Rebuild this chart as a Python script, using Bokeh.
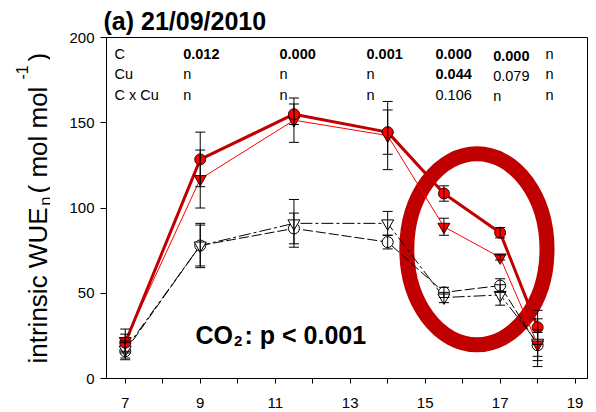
import math
from bokeh.plotting import figure
from bokeh.layouts import row
from bokeh.models import Range1d, Label, Whisker, ColumnDataSource, FixedTicker, TeeHead
from bokeh.embed import file_html
from bokeh.resources import INLINE

# ---------------- data ----------------
days = [7, 9, 11.5, 14, 15.5, 17, 18]

# elevated CO2, control (red circles, thick line)
ec_ctrl = [21, 128.5, 155, 144.5, 108.5, 85.5, 30]
ec_ctrl_se = [5, 16, 6, 13, 4.5, 3, 10]
# elevated CO2, Cu (red triangles, thin line)
ec_cu = [22, 117, 151.5, 142.5, 89, 71, 20]
ec_cu_se = [7, 17, 13, 20, 5, 1.5, 7]
# ambient CO2, control (open circles)
ac_ctrl = [16, 78, 88, 80, 50.5, 54.5, 19.5]
ac_ctrl_se = [5, 13, 9, 4, 3, 4, 9]
# ambient CO2, Cu (open triangles)
ac_cu = [17, 78, 91, 91, 47.5, 49, 21]
ac_cu_se = [5, 12, 14, 7, 3, 6, 14]

x_ticks = list(range(7, 20))
x_tick_labels = {t: (str(t) if t % 2 == 1 else "") for t in x_ticks}
y_ticks = [0, 50, 100, 150, 200]

table_rows = ["C", "Cu", "C x Cu"]
table_vals = [
    ["0.012", "0.000", "0.001", "0.000", "0.000", "n"],
    ["n", "n", "n", "0.044", "0.079", "n"],
    ["n", "n", "n", "0.106", "n", "n"],
]
table_bold = [
    [True, True, True, True, True, False],
    [False, False, False, True, False, False],
    [False, False, False, False, False, False],
]

title_text = "(a) 21/09/2010"
ylabel_main = "intrinsic WUE"
ylabel_sub = "\u03b7"
ylabel_unit = "( mol mol"
ylabel_sup = "-1"
ylabel_close = ")"
stat_main = "CO"
stat_sub = "2"
stat_rest = ": p < 0.001"

# highlight ellipse (data units)
hl_day, hl_val, hl_w, hl_h = 16.38, 75.8, 3.74, 112.0

# ---------------- layout ----------------
W, H = 596, 412
LW = 50                      # width of the strip holding the rotated y label
L, R, T, B = 106, 9, 37, 34  # frame borders measured on the full canvas
xr = (6.5, 19.33)
yr = (0, 200)
FONT = "Liberation Sans"

p = figure(width=W - LW, height=H, x_range=Range1d(*xr), y_range=Range1d(*yr),
           output_backend="svg", toolbar_location=None,
           min_border_left=L - LW, min_border_right=R, min_border_top=T, min_border_bottom=B)
p.grid.visible = False
p.outline_line_color = "black"
p.outline_line_width = 1
p.background_fill_color = "white"
p.border_fill_color = "white"

fw = W - L - R
fh = H - T - B


def X(px):
    return xr[0] + (px - L) * (xr[1] - xr[0]) / fw


def Y(py):
    return yr[0] + (H - B - py) * (yr[1] - yr[0]) / fh


# title
p.title.text = title_text
p.title.align = "left"
p.title.offset = -3
p.title.standoff = 5
p.title.text_font = FONT
p.title.text_font_size = "25px"
p.title.text_font_style = "bold"
p.title.text_color = "black"

# axes
xa = p.xaxis[0]
xa.ticker = FixedTicker(ticks=x_ticks)
xa.major_label_overrides = x_tick_labels
xa.minor_tick_line_color = None
xa.major_tick_out = 5
xa.major_tick_in = 0
xa.major_label_standoff = 14
ya = p.yaxis[0]
ya.ticker = FixedTicker(ticks=y_ticks)
ya.minor_tick_line_color = None
ya.major_tick_out = 6
ya.major_tick_in = 0
ya.major_label_standoff = 6
for ax in (xa, ya):
    ax.axis_line_color = "black"
    ax.major_tick_line_color = "black"
    ax.major_label_text_font = FONT
    ax.major_label_text_font_size = "15px"
    ax.major_label_text_color = "black"

# highlight ellipse
p.ellipse(x=[hl_day], y=[hl_val], width=hl_w, height=hl_h, fill_color=None,
          line_color="#C00000", line_width=15)

# lines
p.line(days, ac_ctrl, line_color="black", line_width=1, line_dash="10 3")
p.line(days, ac_cu, line_color="black", line_width=1, line_dash="12 3 3 3")
p.line(days, ec_cu, line_color="#FF0000", line_width=1)
p.line(days, ec_ctrl, line_color="#C00000", line_width=3)

# markers
p.scatter(days, ac_ctrl, marker="circle", size=11, fill_color="white", line_color="black")
p.scatter(days, ac_cu, marker="inverted_triangle", size=12, fill_color="white", line_color="black")
p.scatter(days, ec_cu, marker="inverted_triangle", size=12, fill_color="#FF0000", line_color="#400000")
p.scatter(days, ec_ctrl, marker="circle", size=11, fill_color="#FF0000", line_color="#400000")

# error bars
for ys, es in [(ac_ctrl, ac_ctrl_se), (ac_cu, ac_cu_se), (ec_cu, ec_cu_se), (ec_ctrl, ec_ctrl_se)]:
    src = ColumnDataSource(dict(x=days,
                                lo=[a - b for a, b in zip(ys, es)],
                                hi=[a + b for a, b in zip(ys, es)]))
    w = Whisker(source=src, base="x", lower="lo", upper="hi", line_color="black", line_width=1,
                upper_head=TeeHead(size=10, line_color="black", line_width=1),
                lower_head=TeeHead(size=10, line_color="black", line_width=1),
                level="annotation")
    p.add_layout(w)


def lab(fig, x, y, text, size, bold=False, angle=0.0):
    fig.add_layout(Label(x=x, y=y, text=text, text_font=FONT,
                         text_font_size=f"{size}px", text_font_style="bold" if bold else "normal",
                         text_color="black", text_align="left", text_baseline="alphabetic",
                         angle=angle))


# table of p values
row_y = [53.5, 73.5, 94]
col_x = [182.7, 279, 366, 435, 492.7, 545]
for i, rname in enumerate(table_rows):
    lab(p, X(114), Y(row_y[i]), rname, 14.5)
    for j, v in enumerate(table_vals[i]):
        lab(p, X(col_x[j]), Y(row_y[i] + (1.5 if j == 4 else 0)), v, 14.5, bold=table_bold[i][j])

# CO2 statistic
lab(p, X(195), Y(334), stat_main, 25, bold=True)
lab(p, X(233.5), Y(340), stat_sub, 15, bold=True)
lab(p, X(244), Y(334), stat_rest, 25, bold=True)

# ---------------- y label strip ----------------
# the row layout aligns this strip's frame with the main frame (rows T .. H-B),
# so its y range is chosen such that data y == H - pixel row.
q = figure(width=LW, height=H, x_range=Range1d(0, LW), y_range=Range1d(B, H - T),
           output_backend="svg", toolbar_location=None, x_axis_type=None, y_axis_type=None,
           min_border_left=0, min_border_right=0, min_border_top=T, min_border_bottom=B)
q.grid.visible = False
q.outline_line_color = None
q.background_fill_color = "white"
q.border_fill_color = "white"

up = math.pi / 2
lab(q, 37, H - 363, ylabel_main, 26, angle=up)
lab(q, 45, H - 205, ylabel_sub, 16, angle=up)
lab(q, 37, H - 193, ylabel_unit, 26, angle=up)
lab(q, 21, H - 79, ylabel_sup, 16, angle=up)
lab(q, 37, H - 61, ylabel_close, 26, angle=up)

layout = row(q, p, spacing=0)
open("out.html", "w").write(file_html(layout, INLINE))
